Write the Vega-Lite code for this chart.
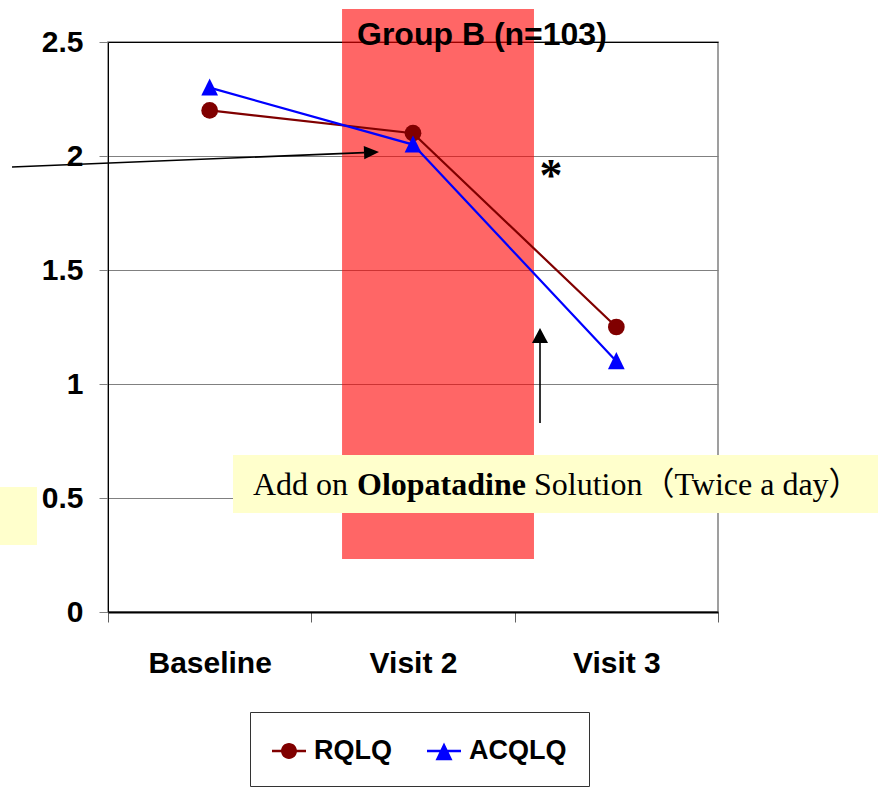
{
  "$schema": "https://vega.github.io/schema/vega-lite/v6.json",
  "width": 610,
  "height": 570,
  "autosize": {"type": "none"},
  "padding": {"left": 108, "top": 42, "right": 160, "bottom": 180},
  "config": {"font": "Liberation Sans", "view": {"stroke": "#808080", "strokeWidth": 1.5}},
  "datasets": {
    "scores": [
      {"visit": 1, "label": "Baseline", "series": "RQLQ", "value": 2.2},
      {"visit": 2, "label": "Visit 2", "series": "RQLQ", "value": 2.1},
      {"visit": 3, "label": "Visit 3", "series": "RQLQ", "value": 1.25},
      {"visit": 1, "label": "Baseline", "series": "ACQLQ", "value": 2.3},
      {"visit": 2, "label": "Visit 2", "series": "ACQLQ", "value": 2.05},
      {"visit": 3, "label": "Visit 3", "series": "ACQLQ", "value": 1.1}
    ],
    "band": [{"x1": 1.651, "x2": 2.595, "y1": 0.2325, "y2": 2.645}],
    "notes": [
      {"x1": 1.1148, "x2": 4.287, "y1": 0.4342, "y2": 0.6886},
      {"x1": -0.0311, "x2": 0.1508, "y1": 0.294, "y2": 0.548}
    ],
    "arrows": [
      {"x1": 0.0279, "y1": 1.9518, "x2": 1.759, "y2": 2.0149},
      {"x1": 2.6246, "y1": 0.829, "x2": 2.6246, "y2": 1.1798}
    ],
    "heads": [
      {"x": 1.7959, "y": 2.0162, "dir": "right"},
      {"x": 2.6246, "y": 1.2127, "dir": "up"}
    ]
  },
  "layer": [
    {
      "data": {"name": "band"},
      "mark": {"type": "rect", "color": "#FF0000", "opacity": 0.6, "clip": false},
      "encoding": {
        "x": {
          "field": "x1", "type": "quantitative", "title": null,
          "scale": {"domain": [0.5, 3.5], "nice": false, "zero": false},
          "axis": {
            "title": null,
            "values": [0.5, 1, 1.5, 2, 2.5, 3, 3.5],
            "labelExpr": "datum.value === 1 ? 'Baseline' : datum.value === 2 ? 'Visit 2' : datum.value === 3 ? 'Visit 3' : ''",
            "labelFont": "Liberation Sans",
            "labelFontSize": 30,
            "labelFontWeight": "bold",
            "labelColor": "#000000",
            "labelBaseline": "middle",
            "labelPadding": 41,
            "labelOverlap": false,
            "labelFlush": false,
            "tickSize": 10,
            "tickColor": "#606060",
            "tickOpacity": {"condition": {"test": "datum.value % 1 === 0", "value": 0}, "value": 1},
            "domainColor": "#000000",
            "domainWidth": 2,
            "grid": false
          }
        },
        "x2": {"field": "x2"},
        "y": {
          "field": "y1", "type": "quantitative", "title": null,
          "scale": {"domain": [0, 2.5], "nice": false, "zero": false},
          "axis": {
            "title": null,
            "values": [0, 0.5, 1, 1.5, 2, 2.5],
            "format": "~g",
            "labelFont": "Liberation Sans",
            "labelFontSize": 30,
            "labelFontWeight": "bold",
            "labelColor": "#000000",
            "labelPadding": 16,
            "tickSize": 9,
            "tickColor": "#808080",
            "domainColor": "#000000",
            "domainWidth": 1,
            "grid": true,
            "gridColor": {"condition": {"test": "datum.value === 2.5", "value": "#000000"}, "value": "#808080"},
            "gridWidth": 1.2,
            "gridOpacity": 1
          }
        },
        "y2": {"field": "y2"}
      }
    },
    {
      "data": {"name": "notes"},
      "mark": {"type": "rect", "color": "#FFFFCC", "clip": false},
      "encoding": {
        "x": {"field": "x1", "type": "quantitative", "title": null},
        "x2": {"field": "x2"},
        "y": {"field": "y1", "type": "quantitative", "title": null},
        "y2": {"field": "y2"}
      }
    },
    {
      "data": {"name": "scores"},
      "mark": {"type": "line", "strokeWidth": 2.2},
      "encoding": {
        "x": {"field": "visit", "type": "quantitative", "title": null},
        "y": {"field": "value", "type": "quantitative", "title": null},
        "detail": {"field": "series"},
        "color": {"condition": {"test": "datum.series === 'RQLQ'", "value": "#800000"}, "value": "#0000FF"}
      }
    },
    {
      "data": {"name": "scores"},
      "mark": {"type": "point", "filled": true, "size": 280, "opacity": 1},
      "encoding": {
        "x": {"field": "visit", "type": "quantitative", "title": null},
        "y": {"field": "value", "type": "quantitative", "title": null},
        "color": {"condition": {"test": "datum.series === 'RQLQ'", "value": "#800000"}, "value": "#0000FF"},
        "shape": {"condition": {"test": "datum.series === 'RQLQ'", "value": "circle"}, "value": "M0,-1.1L1,0.95L-1,0.95Z"}
      }
    },
    {
      "data": {"name": "scores"},
      "mark": {"type": "point", "filled": true, "opacity": 0},
      "encoding": {
        "x": {"field": "visit", "type": "quantitative", "title": null},
        "y": {"field": "value", "type": "quantitative", "title": null},
        "color": {
          "field": "series", "type": "nominal",
          "scale": {"domain": ["RQLQ", "ACQLQ"], "range": ["#800000", "#0000FF"]},
          "legend": {
            "title": null, "orient": "none", "legendX": 142, "legendY": 670,
            "direction": "horizontal", "columns": 2,
            "strokeColor": "#333333", "padding": 22,
            "symbolSize": 1156, "symbolStrokeWidth": 0, "symbolOpacity": 1,
            "labelFont": "Liberation Sans", "labelFontSize": 27, "labelFontWeight": "bold",
            "labelColor": "#000000", "labelOffset": 8, "columnPadding": 35
          }
        },
        "shape": {
          "field": "series", "type": "nominal",
          "scale": {
            "domain": ["RQLQ", "ACQLQ"],
            "range": [
              "M-1,-0.07L1,-0.07L1,0.07L-1,0.07Z M-0.47,0A0.47,0.47 0 1,1 0.47,0A0.47,0.47 0 1,1 -0.47,0Z",
              "M-1,-0.07L1,-0.07L1,0.07L-1,0.07Z M0,-0.5L0.5,0.55L-0.5,0.55Z"
            ]
          },
          "legend": {
            "title": null, "orient": "none", "legendX": 142, "legendY": 670,
            "direction": "horizontal", "columns": 2,
            "strokeColor": "#333333", "padding": 22,
            "symbolSize": 1156, "symbolStrokeWidth": 0, "symbolOpacity": 1,
            "labelFont": "Liberation Sans", "labelFontSize": 27, "labelFontWeight": "bold",
            "labelColor": "#000000", "labelOffset": 8, "columnPadding": 35
          }
        }
      }
    },
    {
      "data": {"name": "arrows"},
      "mark": {"type": "rule", "color": "#000000", "strokeWidth": 1.6},
      "encoding": {
        "x": {"field": "x1", "type": "quantitative", "title": null},
        "y": {"field": "y1", "type": "quantitative", "title": null},
        "x2": {"field": "x2"},
        "y2": {"field": "y2"}
      }
    },
    {
      "data": {"name": "heads"},
      "mark": {"type": "point", "filled": true, "size": 225, "color": "#000000", "opacity": 1},
      "encoding": {
        "x": {"field": "x", "type": "quantitative", "title": null},
        "y": {"field": "y", "type": "quantitative", "title": null},
        "shape": {"condition": {"test": "datum.dir === 'up'", "value": "M0,-1L1.07,1L-1.07,1Z"}, "value": "M1,-0.04L-1.03,-0.83L-0.96,0.91Z"}
      }
    },
    {
      "data": {"values": [{"x": 1.7246, "y": 2.4868, "text": "Group B (n=103)"}]},
      "mark": {"type": "text", "font": "Liberation Sans", "fontSize": 32, "fontWeight": "bold", "align": "left", "baseline": "alphabetic", "color": "#000000"},
      "encoding": {
        "x": {"field": "x", "type": "quantitative", "title": null},
        "y": {"field": "y", "type": "quantitative", "title": null},
        "text": {"field": "text"}
      }
    },
    {
      "data": {"values": [{"x": 2.6787, "y": 1.846, "text": "*"}]},
      "mark": {"type": "text", "font": "Liberation Serif", "fontSize": 46, "fontWeight": "bold", "align": "center", "baseline": "alphabetic", "color": "#000000"},
      "encoding": {
        "x": {"field": "x", "type": "quantitative", "title": null},
        "y": {"field": "y", "type": "quantitative", "title": null},
        "text": {"field": "text"}
      }
    },
    {
      "data": {"values": [{"x": 1.2131, "y": 0.513, "text": "Add on"}]},
      "mark": {"type": "text", "font": "Liberation Serif", "fontSize": 32, "align": "left", "baseline": "alphabetic", "color": "#000000"},
      "encoding": {
        "x": {"field": "x", "type": "quantitative", "title": null},
        "y": {"field": "y", "type": "quantitative", "title": null},
        "text": {"field": "text"}
      }
    },
    {
      "data": {"values": [{"x": 1.7246, "y": 0.513, "text": "Olopatadine"}]},
      "mark": {"type": "text", "font": "Liberation Serif", "fontSize": 32, "fontWeight": "bold", "align": "left", "baseline": "alphabetic", "color": "#000000"},
      "encoding": {
        "x": {"field": "x", "type": "quantitative", "title": null},
        "y": {"field": "y", "type": "quantitative", "title": null},
        "text": {"field": "text"}
      }
    },
    {
      "data": {"values": [{"x": 2.5951, "y": 0.513, "text": "Solution（Twice a day）"}]},
      "mark": {"type": "text", "font": "Liberation Serif, Noto Sans CJK SC", "fontSize": 32, "align": "left", "baseline": "alphabetic", "color": "#000000"},
      "encoding": {
        "x": {"field": "x", "type": "quantitative", "title": null},
        "y": {"field": "y", "type": "quantitative", "title": null},
        "text": {"field": "text"}
      }
    }
  ]
}
